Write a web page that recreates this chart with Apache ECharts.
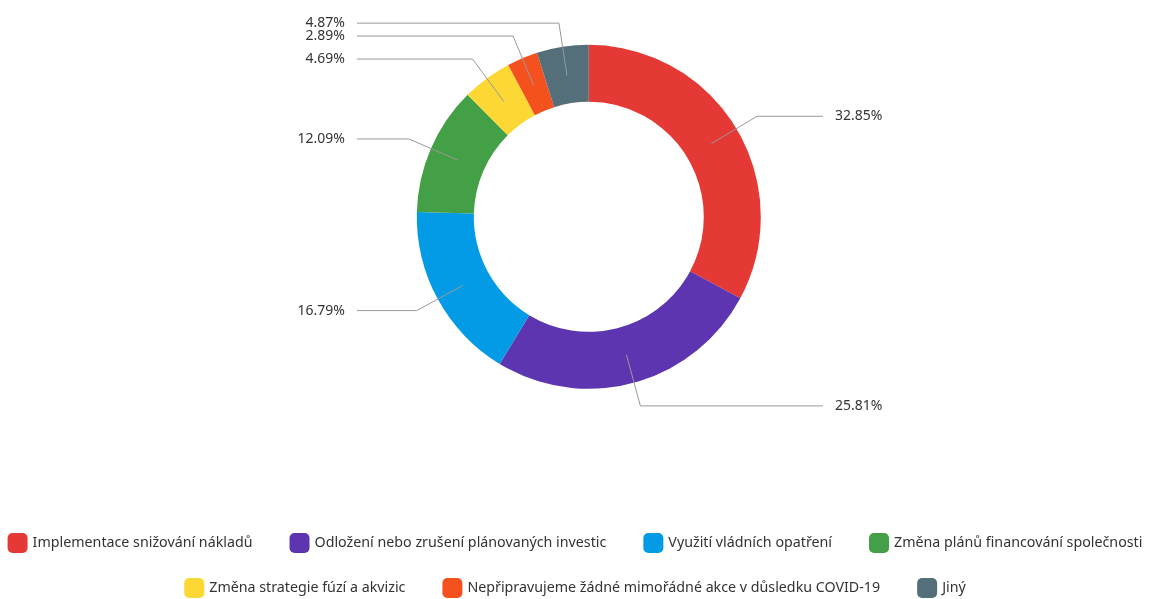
<!DOCTYPE html>
<html>
<head>
<meta charset="utf-8">
<script src="https://cdn.jsdelivr.net/npm/echarts@6/dist/echarts.min.js"></script>
<style>
  html, body { margin: 0; padding: 0; background: #fff; }
  #chart { width: 1150px; height: 599px; }
</style>
</head>
<body>
<div id="chart"></div>
<script>
// data
const categories = [
  'Implementace snižování nákladů',
  'Odložení nebo zrušení plánovaných investic',
  'Využití vládních opatření',
  'Změna plánů financování společnosti',
  'Změna strategie fúzí a akvizic',
  'Nepřipravujeme žádné mimořádné akce v důsledku COVID-19',
  'Jiný'
]
const shares = [32.85, 25.81, 16.79, 12.09, 4.69, 2.89, 4.87]
const colors = ['#E53935', '#5E35B1', '#039BE5', '#43A047', '#FDD835', '#F4511E', '#546E7A']

const pieData = categories.map((name, i) => ({ name: name, value: shares[i] }))

const FONT = '"Noto Sans", sans-serif'
const LINE_END_LEFT = 357
const LINE_END_RIGHT = 823

const chart = echarts.init(document.getElementById('chart'))

const legendBase = {
  left: 'center',
  itemWidth: 20,
  itemHeight: 20,
  itemGap: 37,
  icon: 'roundRect',
  textStyle: { fontSize: 14.25, color: '#333', fontFamily: FONT }
}

chart.setOption({
  animation: false,
  color: colors,
  textStyle: { fontFamily: FONT },
  legend: [
    Object.assign({}, legendBase, { data: categories.slice(0, 4), top: 528 }),
    Object.assign({}, legendBase, { data: categories.slice(4), top: 573 })
  ],
  series: [
    {
      name: 'ring',
      type: 'pie',
      center: ['51.2%', '36.2%'],
      radius: [115, 172],
      startAngle: 90,
      label: { show: false },
      labelLine: { show: false },
      data: pieData
    },
    {
      // invisible pie only used to start label lines inside the ring
      name: 'labels',
      type: 'pie',
      silent: true,
      z: 5,
      center: ['51.2%', '36.2%'],
      radius: [0, 143],
      startAngle: 90,
      avoidLabelOverlap: false,
      itemStyle: { color: 'rgba(0,0,0,0)' },
      label: {
        show: true,
        formatter: p => p.value.toFixed(2) + '%',
        fontSize: 14,
        color: '#333',
        fontFamily: FONT
      },
      labelLine: {
        show: true,
        length: 53,
        length2: 40,
        lineStyle: { color: '#999', width: 1 }
      },
      labelLayout: function (params) {
        const pts = params.labelLinePoints
        if (!pts) return {}
        const isLeft = pts[2][0] < pts[0][0]
        const endX = isLeft ? LINE_END_LEFT : LINE_END_RIGHT
        pts[2][0] = endX
        return {
          x: isLeft ? endX - 12 : endX + 12,
          y: pts[2][1],
          align: isLeft ? 'right' : 'left',
          verticalAlign: 'middle',
          labelLinePoints: pts
        }
      },
      data: pieData
    }
  ]
})
</script>
</body>
</html>
